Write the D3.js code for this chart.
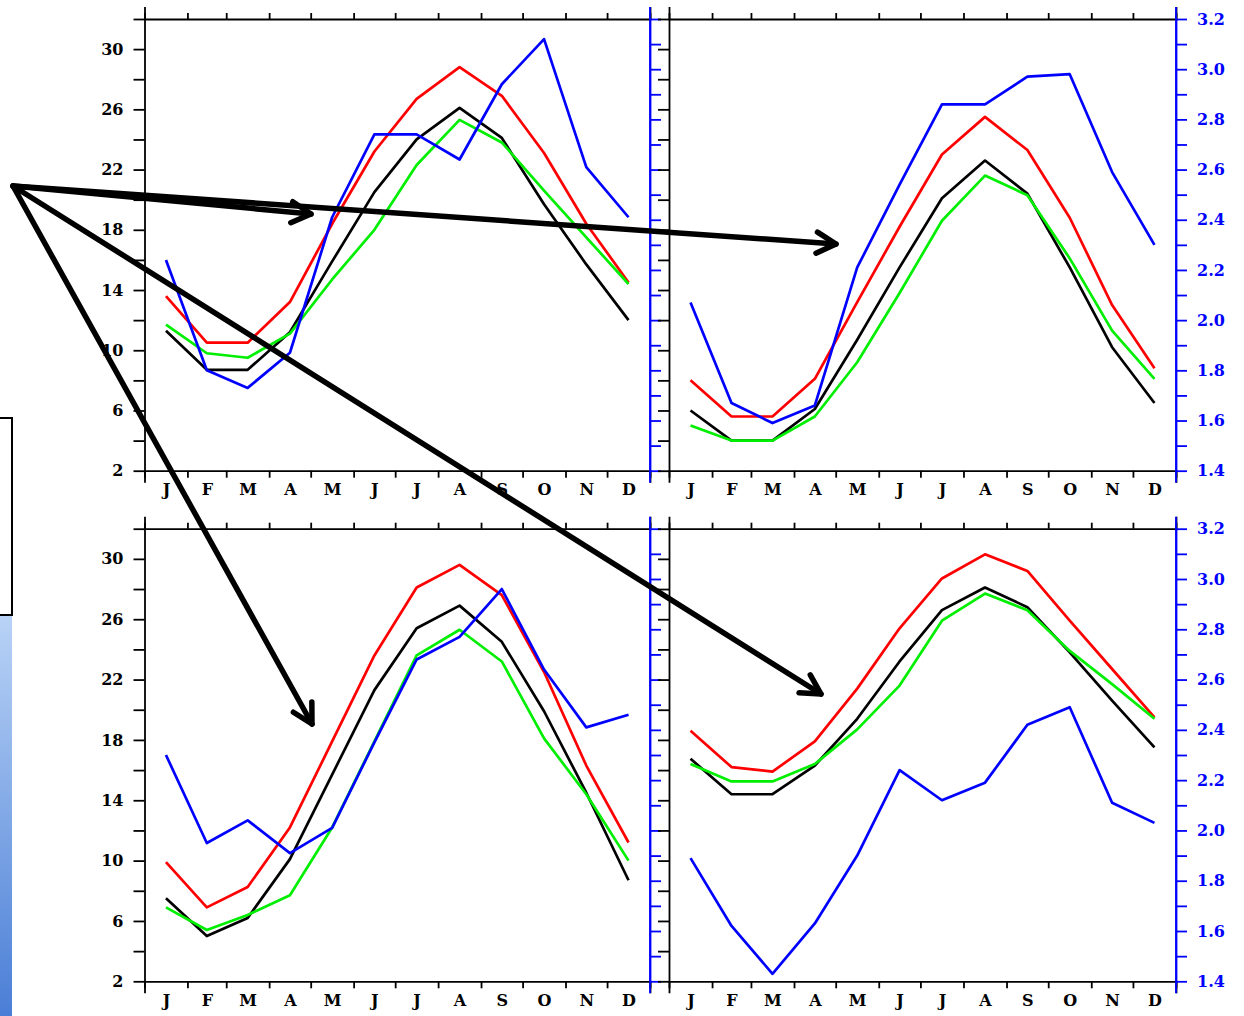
<!DOCTYPE html>
<html>
<head>
<meta charset="utf-8">
<script src="https://cdn.jsdelivr.net/npm/d3@7"></script>
<style>
  body { margin: 0; background: #fff; }
  svg text { font-family: "DejaVu Serif", serif; font-weight: bold; font-size: 16px; }
</style>
</head>
<body>
<script>
const months = ['J','F','M','A','M','J','J','A','S','O','N','D']
const monthDays = [31,28,31,30,31,30,31,31,30,31,30,31]

// top left
const tlRed   = [13.6,10.5,10.5,13.2,18.4,23.2,26.7,28.8,26.9,23.1,18.4,14.5]
const tlBlack = [11.3,8.7,8.7,11.2,15.9,20.5,24.0,26.1,24.1,19.7,15.7,12.0]
const tlGreen = [11.7,9.8,9.5,11.1,14.7,18.0,22.3,25.3,23.8,20.6,17.5,14.4]
const tlBlue  = [2.24,1.80,1.73,1.87,2.41,2.74,2.74,2.64,2.94,3.12,2.61,2.41]
// top right
const trRed   = [8.0,5.6,5.6,8.1,13.2,18.2,23.0,25.5,23.3,18.8,13.0,8.8]
const trBlack = [6.0,4.0,4.0,6.1,10.7,15.5,20.1,22.6,20.4,15.5,10.2,6.5]
const trGreen = [5.0,4.0,4.0,5.6,9.2,13.8,18.6,21.6,20.3,16.1,11.3,8.1]
const trBlue  = [2.07,1.67,1.59,1.66,2.21,2.54,2.86,2.86,2.97,2.98,2.59,2.30]
// bottom left
const blRed   = [9.9,6.9,8.25,12.2,17.9,23.6,28.1,29.6,27.6,22.5,16.3,11.2]
const blBlack = [7.5,5.0,6.2,10.1,15.7,21.3,25.4,26.9,24.5,19.9,14.5,8.7]
const blGreen = [6.9,5.4,6.4,7.7,12.2,17.9,23.6,25.3,23.2,18.1,14.4,10.0]
const blBlue  = [2.30,1.95,2.04,1.91,2.01,2.35,2.68,2.77,2.96,2.64,2.41,2.46]
// bottom right
const brRed   = [18.6,16.2,15.9,17.9,21.4,25.4,28.7,30.3,29.2,25.9,22.7,19.5]
const brBlack = [16.75,14.4,14.4,16.3,19.4,23.2,26.6,28.1,26.8,23.8,20.6,17.5]
const brGreen = [16.4,15.25,15.25,16.4,18.7,21.6,25.9,27.7,26.6,23.9,21.7,19.4]
const brBlue  = [1.89,1.62,1.43,1.63,1.90,2.24,2.12,2.19,2.42,2.49,2.11,2.03]

const leftDomain = [2, 32]
const blueDomain = [1.4, 3.2]

// annotation arrows: one origin, four targets
const arrowOrigin = [13, 186]
const arrowTargets = [[311, 214], [836, 244], [312, 724], [821, 694]]

const W = 1244, H = 1016

const svg = d3.select('body').append('svg')
     .attr('width', W)
     .attr('height', H)

// month boundaries (day of year) and mid-month positions
const bounds = [0]
monthDays.forEach(d => bounds.push(bounds[bounds.length - 1] + d))
const mids = monthDays.map((d, i) => bounds[i] + d / 2)

const panels = [
     { x0: 144.5, x1: 650, y0: 19, y1: 470.7, side: 'left', red: tlRed, black: tlBlack, green: tlGreen, blue: tlBlue },
     { x0: 669, x1: 1176, y0: 19, y1: 470.7, side: 'right', red: trRed, black: trBlack, green: trGreen, blue: trBlue },
     { x0: 144.5, x1: 650, y0: 528.7, y1: 981.3, side: 'left', red: blRed, black: blBlack, green: blGreen, blue: blBlue },
     { x0: 669, x1: 1176, y0: 528.7, y1: 981.3, side: 'right', red: brRed, black: brBlack, green: brGreen, blue: brBlue }
]

const leftTicks = d3.range(2, 33, 2)
const blueTicks = d3.range(14, 33, 1).map(v => v / 10)

function styleAxis(g, color) {
     g.selectAll('path, line').attr('stroke', color).attr('stroke-width', 1.8)
     g.selectAll('text').attr('fill', color).style('font-family', '"DejaVu Serif", serif').style('font-weight', 'bold').style('font-size', '16px')
}

panels.forEach(p => {
     const x = d3.scaleLinear().domain([0, 365]).range([p.x0, p.x1])
     const y = d3.scaleLinear().domain(leftDomain).range([p.y1, p.y0])
     const yb = d3.scaleLinear().domain(blueDomain).range([p.y1, p.y0])

     const g = svg.append('g')

     // bottom month ticks
     g.append('g')
          .attr('transform', 'translate(0,' + p.y1 + ')')
          .call(d3.axisBottom(x).tickValues(bounds).tickSize(7).tickSizeOuter(12).tickFormat(''))
          .call(a => styleAxis(a, '#000'))
     // month letters
     g.append('g')
          .attr('transform', 'translate(0,' + p.y1 + ')')
          .call(d3.axisBottom(x).tickValues(mids).tickSize(0).tickPadding(13).tickFormat((d, i) => months[i]))
          .call(a => a.select('.domain').remove())
          .call(a => styleAxis(a, '#000'))
     // top ticks
     g.append('g')
          .attr('transform', 'translate(0,' + p.y0 + ')')
          .call(d3.axisTop(x).tickValues(bounds).tickSize(6).tickSizeOuter(12).tickFormat(''))
          .call(a => styleAxis(a, '#000'))

     // left black axis
     g.append('g')
          .attr('transform', 'translate(' + p.x0 + ',0)')
          .call(d3.axisLeft(y).tickValues(leftTicks).tickSize(11).tickSizeOuter(0).tickPadding(10)
               .tickFormat(d => (p.side === 'left' && (d - 2) % 4 === 0) ? d : ''))
          .call(a => styleAxis(a, '#000'))

     // right blue axis
     g.append('g')
          .attr('transform', 'translate(' + p.x1 + ',0)')
          .call(d3.axisRight(yb).tickValues(blueTicks).tickSize(11).tickSizeOuter(0).tickPadding(10)
               .tickFormat(d => (p.side === 'right' && Math.round(d * 10) % 2 === 0) ? d3.format('.1f')(d) : ''))
          .call(a => styleAxis(a, '#0000ff'))
     g.append('line')
          .attr('x1', p.x1).attr('x2', p.x1)
          .attr('y1', p.y0 - 12).attr('y2', p.y1 + 12)
          .attr('stroke', '#0000ff').attr('stroke-width', 1.8)

     const line = d3.line().x((d, i) => x(mids[i])).y(d => y(d))
     const lineB = d3.line().x((d, i) => x(mids[i])).y(d => yb(d))

     const series = [
          { v: p.black, c: '#000000', fn: line },
          { v: p.red, c: '#ff0000', fn: line },
          { v: p.green, c: '#00ee00', fn: line },
          { v: p.blue, c: '#0000ff', fn: lineB }
     ]
     g.selectAll('path.series')
          .data(series)
          .enter()
          .append('path')
          .attr('class', 'series')
          .attr('d', d => d.fn(d.v))
          .attr('fill', 'none')
          .attr('stroke', d => d.c)
          .attr('stroke-width', 2.7)
          .attr('stroke-linejoin', 'round')
})

// slide remnants at the left edge
const defs = svg.append('defs')
const grad = defs.append('linearGradient')
     .attr('id', 'strip')
     .attr('x1', 0).attr('y1', 0).attr('x2', 0).attr('y2', 1)
grad.append('stop').attr('offset', '0%').attr('stop-color', '#b9d3f6')
grad.append('stop').attr('offset', '100%').attr('stop-color', '#4a7ed6')
svg.append('rect')
     .attr('x', 0).attr('y', 615)
     .attr('width', 12).attr('height', H - 615)
     .attr('fill', 'url(#strip)')
svg.append('path')
     .attr('d', 'M0,418H12V615H0')
     .attr('fill', '#fff')
     .attr('stroke', '#000')
     .attr('stroke-width', 2)

// arrows
const arrows = svg.append('g')
     .attr('stroke', '#000')
     .attr('stroke-width', 5.5)
     .attr('stroke-linecap', 'round')
     .attr('fill', 'none')
arrowTargets.forEach(t => {
     const ang = Math.atan2(t[1] - arrowOrigin[1], t[0] - arrowOrigin[0])
     const hl = 22, spread = 0.5
     const h1 = [t[0] - hl * Math.cos(ang - spread), t[1] - hl * Math.sin(ang - spread)]
     const h2 = [t[0] - hl * Math.cos(ang + spread), t[1] - hl * Math.sin(ang + spread)]
     arrows.append('path')
          .attr('d', 'M' + arrowOrigin + 'L' + t)
     arrows.append('path')
          .attr('d', 'M' + h1 + 'L' + t + 'L' + h2)
          .attr('stroke-linejoin', 'round')
})
</script>
</body>
</html>
